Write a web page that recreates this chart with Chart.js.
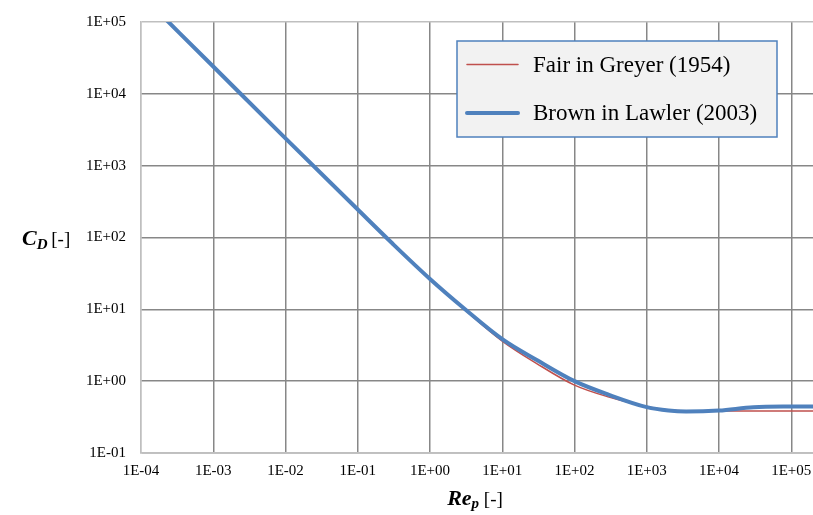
<!DOCTYPE html>
<html>
<head>
<meta charset="utf-8">
<script src="https://cdn.jsdelivr.net/npm/chart.js@4.4.0/dist/chart.umd.min.js"></script>
<style>
html,body{margin:0;padding:0;background:#ffffff;}
#wrap{width:813px;height:515px;position:relative;}
</style>
</head>
<body>
<div id="wrap"><canvas id="c" width="813" height="515"></canvas></div>
<script>
// ---- data ----
const reynolds    = [2e-4, 1e-3, 1e-2, 1e-1, 0.3, 1, 3, 10, 30, 100, 300, 1e3, 2e3, 3.5e3, 1e4, 3e4, 1e5, 2e5];
const fairGreyer  = [1.2e5, 2.4e4, 2.42e3, 2.48e2, 84, 26.7, 10.0, 3.62, 1.76, 0.88, 0.60, 0.445, 0.397, 0.386, 0.384, 0.384, 0.385, 0.385];
const brownLawler = [1.2e5, 2.4e4, 2.4e3, 2.45e2, 83, 26.5, 10.2, 3.85, 1.97, 1.0, 0.645, 0.435, 0.39, 0.378, 0.39, 0.434, 0.444, 0.445];
const seriesLabels = ['Fair in Greyer (1954)', 'Brown in Lawler (2003)'];
const xTickValues = [1e-4, 1e-3, 1e-2, 1e-1, 1e0, 1e1, 1e2, 1e3, 1e4, 1e5];
const yTickValues = [1e-1, 1e0, 1e1, 1e2, 1e3, 1e4, 1e5];
const xRange = [1e-4, 2e5];
const yRange = [1e-1, 1e5];

function fmtExp(v) {
  const e = Math.round(Math.log10(v));
  return '1E' + (e < 0 ? '-' : '+') + String(Math.abs(e)).padStart(2, '0');
}
function toPoints(xs, ys) { return xs.map((x, i) => ({ x: x, y: ys[i] })); }

const GRID_DARK = '#878787';
const GRID_LIGHT = '#bfbfbf';
const SERIF = '"Liberation Serif", "Times New Roman", serif';

const overlay = {
  id: 'overlay',
  afterDraw(chart) {
    const ctx = chart.ctx;
    ctx.save();
    // legend box
    const bx = 457, by = 41, bw = 320, bh = 96;
    ctx.fillStyle = '#f2f2f2';
    ctx.fillRect(bx, by, bw, bh);
    ctx.strokeStyle = '#4f81bd';
    ctx.lineWidth = 1.5;
    ctx.strokeRect(bx, by, bw, bh);
    chart.data.datasets.forEach((ds, i) => {
      const y = by + 23.5 + i * 48.5;
      ctx.strokeStyle = ds.borderColor;
      ctx.lineWidth = ds.borderWidth;
      ctx.lineCap = 'round';
      ctx.beginPath();
      ctx.moveTo(bx + 10, y);
      ctx.lineTo(bx + 61, y);
      ctx.stroke();
      ctx.fillStyle = '#000';
      ctx.font = '23px ' + SERIF;
      ctx.textBaseline = 'middle';
      ctx.textAlign = 'left';
      ctx.fillText(ds.label, bx + 76, y + 1);
    });

    // axis titles with mixed styles
    ctx.textBaseline = 'alphabetic';
    ctx.fillStyle = '#000';
    function drawParts(parts, x, y) {
      parts.forEach(p => {
        ctx.font = p.font;
        ctx.fillText(p.t, x, y + (p.dy || 0));
        x += ctx.measureText(p.t).width + (p.gap || 0);
      });
    }
    function partsWidth(parts) {
      let w = 0;
      parts.forEach(p => { ctx.font = p.font; w += ctx.measureText(p.t).width + (p.gap || 0); });
      return w;
    }
    const yTitle = [
      { t: 'C', font: 'italic bold 22px ' + SERIF },
      { t: 'D', font: 'italic bold 15px ' + SERIF, dy: 4, gap: -1 },
      { t: ' [-]', font: '19px ' + SERIF }
    ];
    drawParts(yTitle, 22, 245);
    const xTitle = [
      { t: 'Re', font: 'italic bold 22px ' + SERIF },
      { t: 'p', font: 'italic bold 15px ' + SERIF, dy: 3 },
      { t: ' [-]', font: '19px ' + SERIF }
    ];
    const a = chart.chartArea;
    const w = partsWidth(xTitle);
    drawParts(xTitle, (a.left + a.right) / 2 - w / 2 - 2, 505);
    ctx.restore();
  }
};

new Chart(document.getElementById('c'), {
  type: 'scatter',
  data: {
    datasets: [
      {
        label: seriesLabels[0],
        data: toPoints(reynolds, fairGreyer),
        showLine: true,
        borderColor: '#c0504d',
        backgroundColor: '#c0504d',
        borderWidth: 1.5,
        pointRadius: 0,
        cubicInterpolationMode: 'monotone',
        order: 2
      },
      {
        label: seriesLabels[1],
        data: toPoints(reynolds, brownLawler),
        showLine: true,
        borderColor: '#4f81bd',
        backgroundColor: '#4f81bd',
        borderWidth: 4,
        pointRadius: 0,
        cubicInterpolationMode: 'monotone',
        order: 1
      }
    ]
  },
  options: {
    responsive: false,
    animation: false,
    devicePixelRatio: 1,
    layout: { padding: { top: 22, left: 0, right: 0, bottom: 0 } },
    plugins: {
      legend: { display: false },
      tooltip: { enabled: false }
    },
    scales: {
      x: {
        type: 'logarithmic',
        min: xRange[0],
        max: xRange[1],
        afterBuildTicks: s => { s.ticks = xTickValues.map(v => ({ value: v, major: true })); },
        afterFit: s => { s.height = 62; s.paddingLeft = 0; s.paddingRight = 0; },
        ticks: {
          callback: v => fmtExp(v),
          font: { family: SERIF, size: 15 },
          color: '#000',
          padding: 9,
          maxRotation: 0,
          autoSkip: false
        },
        grid: {
          color: c => (c.tick && Math.abs(c.tick.value - xRange[0]) < 1e-9) ? GRID_LIGHT : GRID_DARK,
          lineWidth: 1.5,
          drawTicks: false
        },
        border: { color: GRID_LIGHT, width: 1.5 }
      },
      y: {
        type: 'logarithmic',
        min: yRange[0],
        max: yRange[1],
        afterBuildTicks: s => { s.ticks = yTickValues.map(v => ({ value: v, major: true })); },
        afterFit: s => { s.width = 141; s.paddingTop = 0; s.paddingBottom = 0; },
        ticks: {
          callback: v => fmtExp(v),
          font: { family: SERIF, size: 15 },
          color: '#000',
          padding: 15,
          autoSkip: false
        },
        grid: {
          color: c => (c.tick && Math.abs(c.tick.value - yRange[1]) < 1) ? GRID_LIGHT : GRID_DARK,
          lineWidth: 1.5,
          drawTicks: false
        },
        border: { color: GRID_LIGHT, width: 1.5 }
      }
    }
  },
  plugins: [overlay]
});
</script>
</body>
</html>
